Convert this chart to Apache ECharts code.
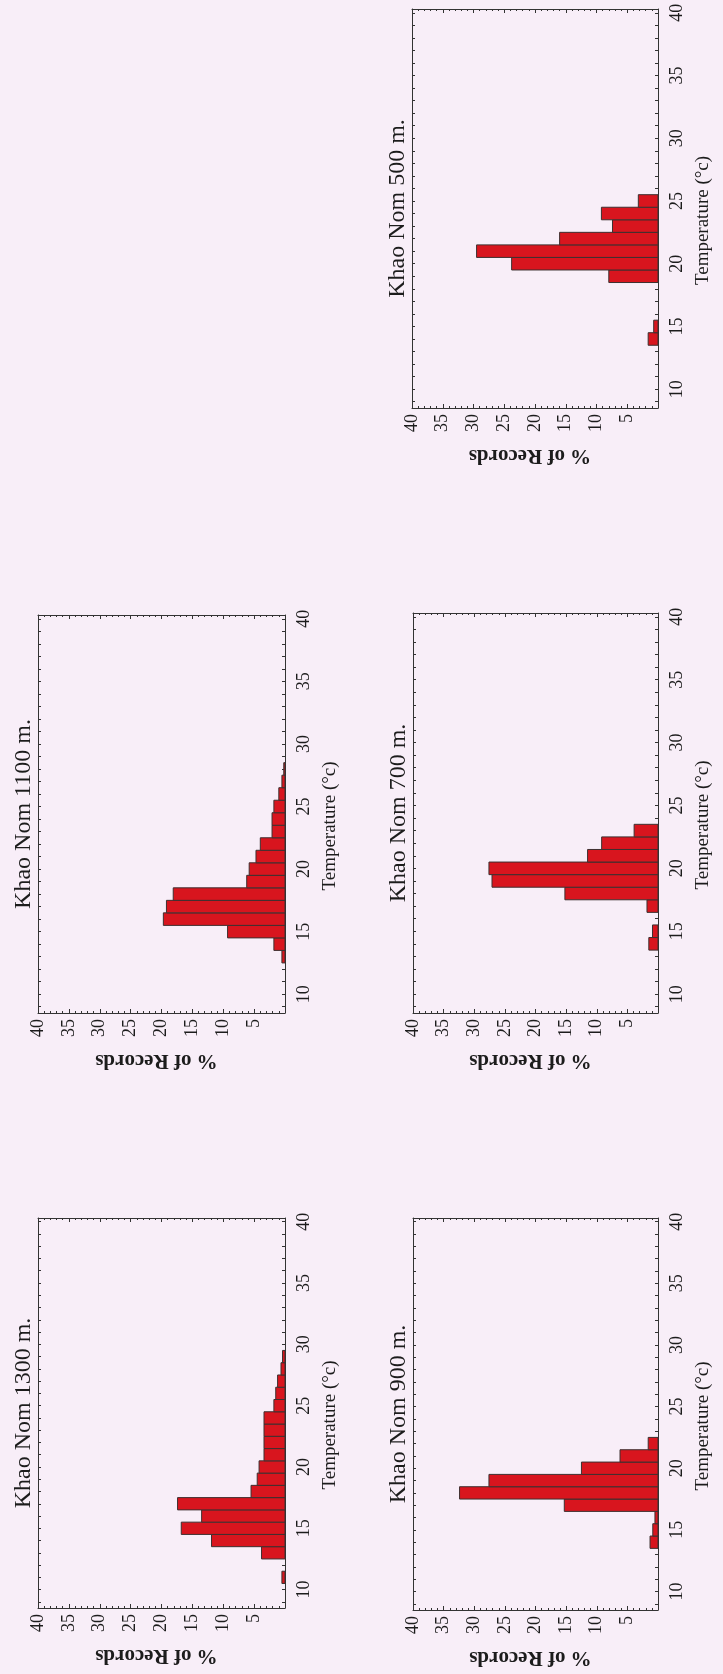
<!DOCTYPE html>
<html>
<head>
<meta charset="utf-8">
<script src="https://cdn.jsdelivr.net/npm/echarts@6/dist/echarts.min.js"></script>
<style>
  html, body { margin: 0; padding: 0; background: #f8eef8; }
  #chart { width: 723px; height: 1674px; }
</style>
</head>
<body>
<div id="chart"></div>
<script>
// Hourly temperature records at Khao Nom, grouped into 1 °C bins (bin centre, % of records)
const titles = ['Khao Nom 500 m.', 'Khao Nom 700 m.', 'Khao Nom 1100 m.', 'Khao Nom 900 m.', 'Khao Nom 1300 m.'];

const temp500 = [14, 15, 19, 20, 21, 22, 23, 24, 25];
const pct500  = [1.6, 0.7, 8.0, 23.8, 29.5, 16.0, 7.4, 9.2, 3.2];

const temp700 = [14, 15, 17, 18, 19, 20, 21, 22, 23];
const pct700  = [1.5, 0.9, 1.8, 15.2, 27.1, 27.6, 11.5, 9.2, 3.9];

const temp900 = [14, 15, 16, 17, 18, 19, 20, 21, 22];
const pct900  = [1.3, 0.85, 0.5, 15.3, 32.4, 27.6, 12.5, 6.2, 1.6];

const temp1100 = [13, 14, 15, 16, 17, 18, 19, 20, 21, 22, 23, 24, 25, 26, 27, 28];
const pct1100  = [0.5, 1.8, 9.3, 19.7, 19.2, 18.1, 6.2, 5.8, 4.7, 4.0, 2.1, 2.1, 1.8, 1.0, 0.5, 0.2];

const temp1300 = [11, 13, 14, 15, 16, 17, 18, 19, 20, 21, 22, 23, 24, 25, 26, 27, 28, 29];
const pct1300  = [0.5, 3.8, 11.9, 16.8, 13.5, 17.4, 5.5, 4.5, 4.2, 3.4, 3.4, 3.4, 3.4, 1.8, 1.5, 1.2, 0.65, 0.4];

// Axis ticks
const tempTicks = [10, 15, 20, 25, 30, 35, 40];
const tempMinorTicks = [9, 10, 11, 12, 13, 14, 15, 16, 17, 18, 19, 20, 21, 22, 23, 24, 25, 26, 27, 28, 29, 30, 31, 32, 33, 34, 35, 36, 37, 38, 39, 40];

const seriesTemps = [temp500, temp700, temp1100, temp900, temp1300];
const seriesPcts  = [pct500, pct700, pct1100, pct900, pct1300];

// Page layout: the figure sits turned a quarter turn, temperature running up the right side
const boxes = [
  { left: 412, top: 9,    width: 246, height: 399 },
  { left: 413, top: 613,  width: 245, height: 400 },
  { left: 38,  top: 615,  width: 247, height: 398 },
  { left: 413, top: 1218, width: 245, height: 392 },
  { left: 38,  top: 1218, width: 247, height: 390 }
];

const FONT = "'Liberation Serif', 'Times New Roman', serif";
const INK = '#1c1c1c';
const LINE = '#333333';
const TMIN = 8.5, TMAX = 40.3;

const grids = [], xAxes = [], yAxes = [], series = [], graphics = [];

boxes.forEach((b, i) => {
  grids.push({ left: b.left, top: b.top, width: b.width, height: b.height, show: false });

  const pctAxis = (pos, labels) => ({
    gridIndex: i, type: 'value', position: pos, min: 0, max: 40, interval: 5, inverse: true,
    axisLine: { show: true, onZero: false, lineStyle: { color: LINE, width: 1 } },
    axisTick: { show: true, inside: true, length: 4, lineStyle: { color: LINE } },
    minorTick: { show: true, splitNumber: 5, length: 2, lineStyle: { color: LINE } },
    splitLine: { show: false },
    axisLabel: {
      show: labels, rotate: 90, margin: 6, fontSize: 18, color: INK, fontFamily: FONT,
      formatter: v => (v === 0 ? '' : String(v))
    }
  });
  xAxes.push(pctAxis('bottom', true));
  xAxes.push(pctAxis('top', false));

  const tempAxis = (pos, labels) => ({
    gridIndex: i, type: 'value', position: pos, min: TMIN, max: TMAX,
    axisLine: { show: true, onZero: false, lineStyle: { color: LINE, width: 1 } },
    axisTick: { show: true, inside: true, length: 3, customValues: tempMinorTicks, lineStyle: { color: LINE } },
    splitLine: { show: false },
    axisLabel: {
      show: labels, customValues: tempTicks, rotate: 90, margin: 10, fontSize: 18,
      color: INK, fontFamily: FONT
    }
  });
  yAxes.push(tempAxis('right', true));
  yAxes.push(tempAxis('left', false));

  const temps = seriesTemps[i], pcts = seriesPcts[i];
  series.push({
    type: 'custom',
    coordinateSystem: 'cartesian2d',
    xAxisIndex: 2 * i,
    yAxisIndex: 2 * i,
    encode: { x: 1, y: 0 },
    data: temps.map((t, j) => [t, pcts[j]]),
    clip: true,
    renderItem: (params, api) => {
      const t = api.value(0), p = api.value(1);
      const a = api.coord([p, t + 0.5]);
      const c = api.coord([0, t - 0.5]);
      return {
        type: 'rect',
        shape: {
          x: Math.min(a[0], c[0]), y: Math.min(a[1], c[1]),
          width: Math.abs(a[0] - c[0]), height: Math.abs(a[1] - c[1])
        },
        style: { fill: '#d8151e', stroke: '#3d3030', lineWidth: 1 }
      };
    }
  });

  // Panel title, temperature caption and percentage caption
  graphics.push({
    type: 'text', x: b.left - 14, y: b.top + b.height / 2, rotation: Math.PI / 2,
    style: { text: titles[i], font: '24px ' + FONT, fill: INK, textAlign: 'center', textVerticalAlign: 'middle' }
  });
  graphics.push({
    type: 'text', x: b.left + b.width + 45, y: b.top + b.height / 2 + 12, rotation: Math.PI / 2,
    style: { text: 'Temperature (°c)', font: '19px ' + FONT, fill: INK, textAlign: 'center', textVerticalAlign: 'middle' }
  });
  graphics.push({
    type: 'text', x: b.left + b.width / 2 - 5, y: b.top + b.height + 47, rotation: Math.PI,
    style: { text: '% of Records', font: 'bold 21px ' + FONT, fill: INK, textAlign: 'center', textVerticalAlign: 'middle' }
  });
});

const chart = echarts.init(document.getElementById('chart'), null, { renderer: 'canvas' });
chart.setOption({
  backgroundColor: '#f8eef8',
  animation: false,
  grid: grids,
  xAxis: xAxes,
  yAxis: yAxes,
  series: series,
  graphic: graphics
});
</script>
</body>
</html>
